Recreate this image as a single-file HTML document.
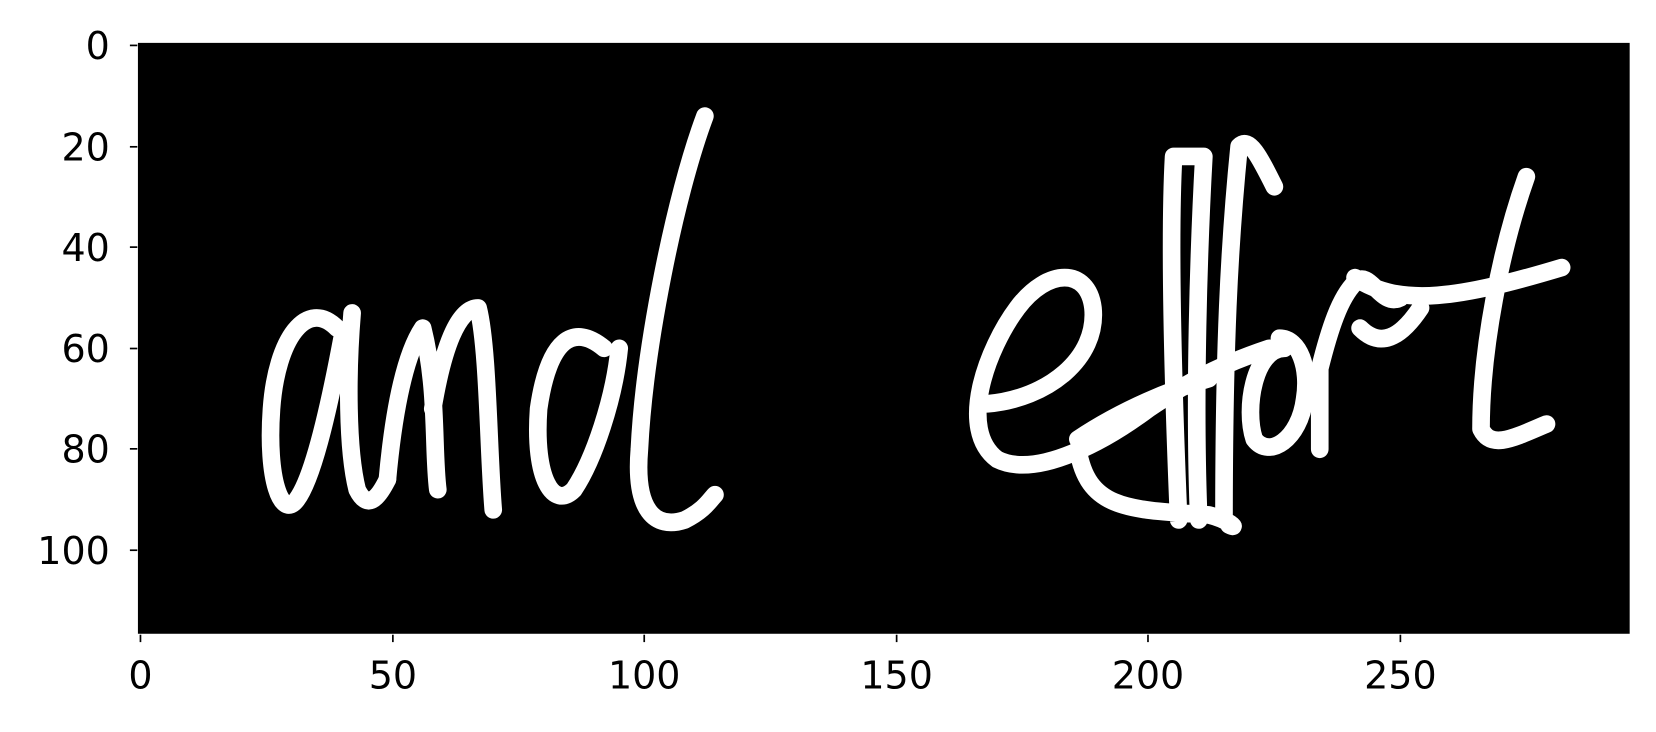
<!DOCTYPE html>
<html><head><meta charset="utf-8"><style>
html,body{margin:0;padding:0;background:#fff;}
svg{display:block;font-family:"DejaVu Sans","Liberation Sans",sans-serif;}
</style></head><body>
<svg width="1656" height="732" viewBox="0 0 1656 732" xmlns="http://www.w3.org/2000/svg">
<g transform="scale(1.0561)">
<rect x="130.6" y="40.6" width="1412.5" height="559.5" fill="#000"/>
<g id="strokes" transform="translate(133,43) scale(4.772,4.78)" fill="none" stroke="#fff" stroke-width="3.5" stroke-linecap="round" stroke-linejoin="round">
<path d="M39 56 C33 50 27 58 26 72 C25 86 28 94 31 90 C34 86 37 74 40 58 M42 53 C41 65 41 80 43 88 C45 92 47 90 49 86"/>
<path d="M49 86 C50 75 52 62 56 56 C59 68 58 80 59 88 M58 72 C60 60 63 52 67 52 C69 60 69 80 70 92"/>
<path d="M92 60 C86 55 81 58 79 72 C78 86 82 92 86 88 C90 82 94 70 95 60 M112 14 C106 30 100 60 99 80 C98 92 102 96 108 94 C112 92 113 90 114 89"/>
<path d="M168 71 C180 70 190 62 189 52 C188 44 180 44 174 52 C168 60 162 76 170 82 C178 86 192 78 200 72 C206 68 212 64 224 60"/>
<path d="M206 94 C205 70 204 40 205 22 L211 22 C210 40 209 70 210 94 M215 94 C215 60 216 40 218 20 C220 18 222 22 225 28 M186 80 C188 92 196 92 212 93 C216 94 218 96 216 95 M186 78 C195 72 205 68 212 66"/>
<path d="M227 60 C221 60 219 72 221 78 C224 82 230 78 231 70 C232 64 230 58 226 58"/>
<path d="M234 80 L234 64 C236 56 238 50 241 47 C244 44 246 52 250 50 M242 56 C246 60 250 58 254 52"/>
<path d="M275 26 C270 40 266 60 266 76 C268 80 272 78 279 75 M241 46 C250 52 262 50 282 44"/>
</g>
<g stroke="#000" stroke-width="1.6">
<line x1="123" y1="43" x2="130" y2="43"/><line x1="123" y1="139" x2="130" y2="139"/><line x1="123" y1="234" x2="130" y2="234"/><line x1="123" y1="330" x2="130" y2="330"/><line x1="123" y1="425" x2="130" y2="425"/><line x1="123" y1="521" x2="130" y2="521"/>
<line x1="133" y1="601" x2="133" y2="608"/><line x1="372" y1="601" x2="372" y2="608"/><line x1="610" y1="601" x2="610" y2="608"/><line x1="849" y1="601" x2="849" y2="608"/><line x1="1087" y1="601" x2="1087" y2="608"/><line x1="1326" y1="601" x2="1326" y2="608"/>
</g>
<g font-size="36" fill="#000" text-anchor="end">
<text x="104" y="56">0</text><text x="104" y="152">20</text><text x="104" y="247">40</text><text x="104" y="343">60</text><text x="104" y="438">80</text><text x="104" y="534">100</text>
</g>
<g font-size="36" fill="#000" text-anchor="middle">
<text x="133" y="652">0</text><text x="372" y="652">50</text><text x="610" y="652">100</text><text x="849" y="652">150</text><text x="1087" y="652">200</text><text x="1326" y="652">250</text>
</g>
</g>
</svg>
</body></html>
